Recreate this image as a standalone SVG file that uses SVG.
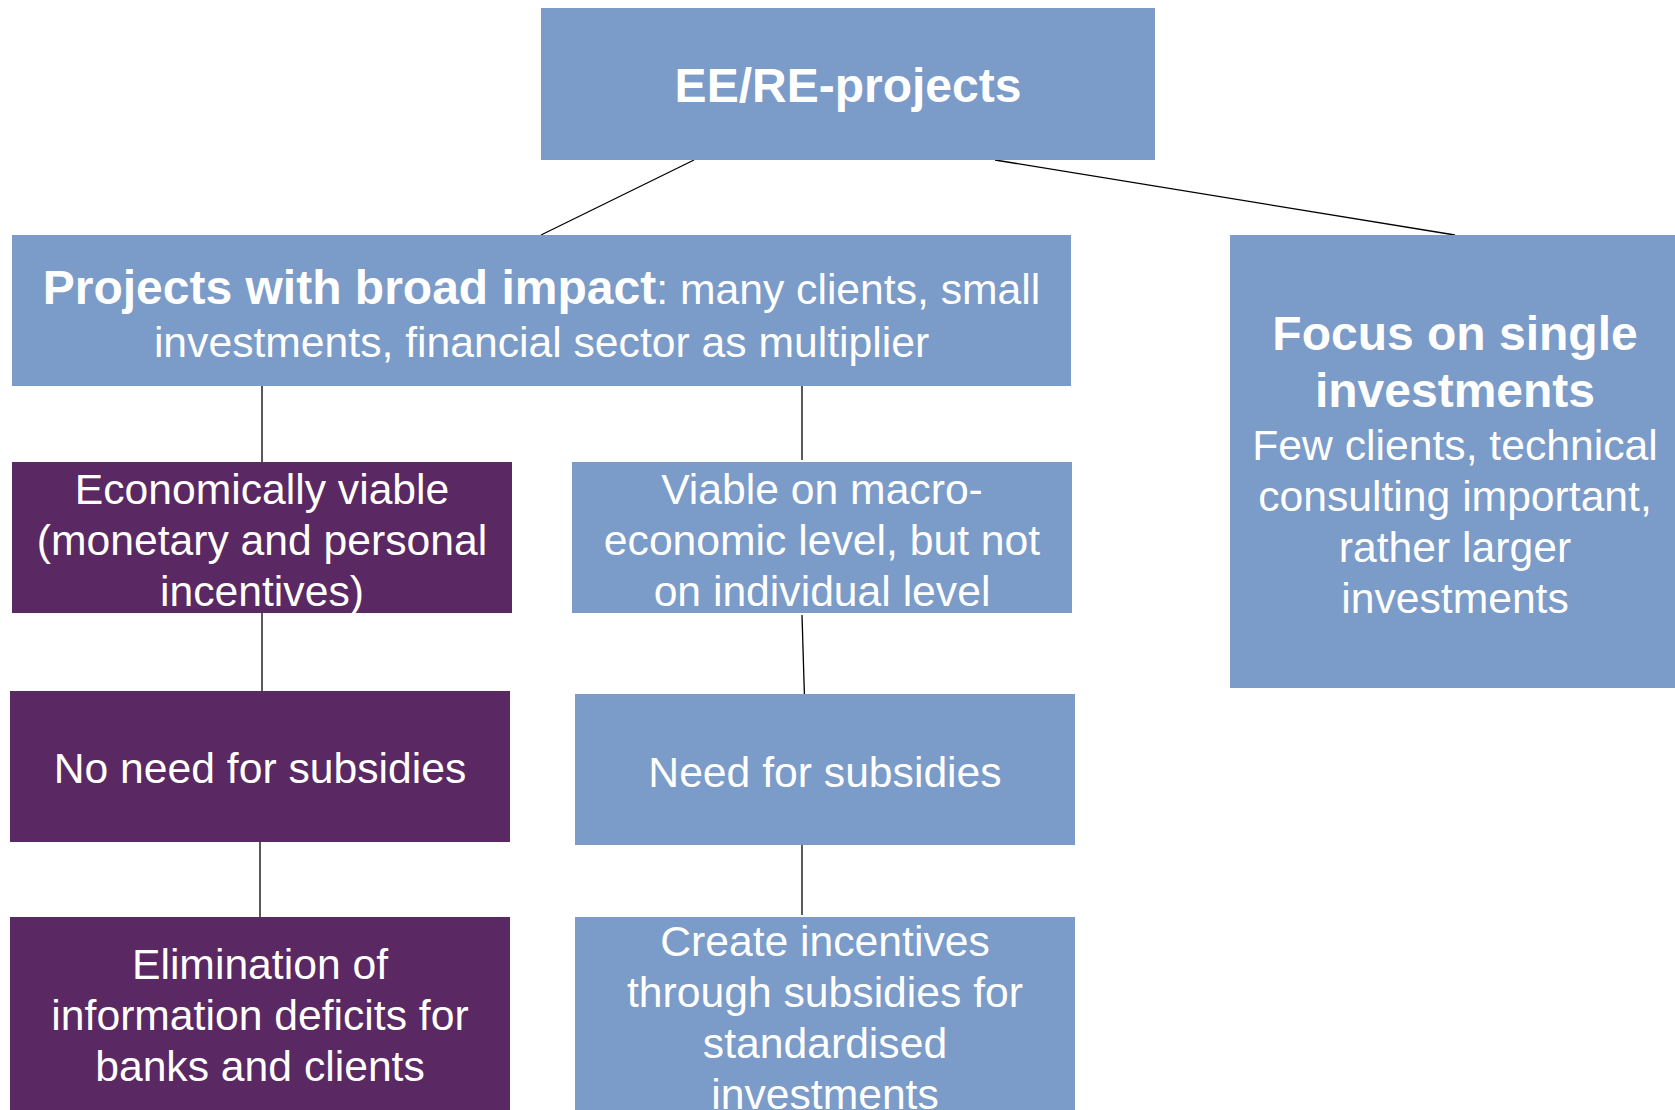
<svg xmlns="http://www.w3.org/2000/svg" width="1675" height="1110" viewBox="0 0 1675 1110">
<style>
.blue{fill:#7B9BC9}
.purple{fill:#5A2862}
text{font-family:"Liberation Sans",Arial,sans-serif;fill:#ffffff;text-anchor:middle}
.r{font-size:42.67px}
.b{font-size:48px;font-weight:bold}
.conn line{stroke:#000000;stroke-width:1.3;fill:none}
</style>
<rect width="1675" height="1110" fill="#ffffff"/>
<g id="connectors" class="conn">
<line x1="694" y1="160" x2="541" y2="235"/>
<line x1="995" y1="160" x2="1455" y2="235"/>
<line x1="262" y1="386" x2="262" y2="462"/>
<line x1="802" y1="386" x2="802" y2="460"/>
<line x1="262" y1="613" x2="262" y2="691"/>
<line x1="802" y1="615" x2="804.5" y2="698"/>
<line x1="260" y1="842" x2="260" y2="917"/>
<line x1="802" y1="840" x2="802" y2="915"/>
</g>
<g id="node-root">
<rect class="blue" x="541" y="8" width="614" height="152"/>
<text class="b" x="848" y="102">EE/RE-projects</text>
</g>
<g id="node-broad">
<rect class="blue" x="12" y="235" width="1059" height="151"/>
<text x="541.5" y="303.5"><tspan class="b">Projects with broad impact</tspan><tspan class="r">: many clients, small</tspan></text>
<text class="r" x="541.5" y="356.5">investments, financial sector as multiplier</text>
</g>
<g id="node-single">
<rect class="blue" x="1230" y="235" width="450" height="453"/>
<text class="b" x="1455" y="349.5">Focus on single</text>
<text class="b" x="1455" y="406.5">investments</text>
<text class="r" x="1455" y="459.5">Few clients, technical</text>
<text class="r" x="1455" y="510.5">consulting important,</text>
<text class="r" x="1455" y="561.5">rather larger</text>
<text class="r" x="1455" y="612.5">investments</text>
</g>
<g id="node-econ">
<rect class="purple" x="12" y="462" width="500" height="151"/>
<text class="r" x="262" y="503.5">Economically viable</text>
<text class="r" x="262" y="554.5">(monetary and personal</text>
<text class="r" x="262" y="605.5">incentives)</text>
</g>
<g id="node-macro">
<rect class="blue" x="572" y="462" width="500" height="151"/>
<text class="r" x="822" y="503.5">Viable on macro-</text>
<text class="r" x="822" y="554.5">economic level, but not</text>
<text class="r" x="822" y="605.5">on individual level</text>
</g>
<g id="node-noneed">
<rect class="purple" x="10" y="691" width="500" height="151"/>
<text class="r" x="260" y="783">No need for subsidies</text>
</g>
<g id="node-need">
<rect class="blue" x="575" y="694" width="500" height="151"/>
<text class="r" x="825" y="786.5">Need for subsidies</text>
</g>
<g id="node-elim">
<rect class="purple" x="10" y="917" width="500" height="200"/>
<text class="r" x="260" y="978.5">Elimination of</text>
<text class="r" x="260" y="1029.5">information deficits for</text>
<text class="r" x="260" y="1080.5">banks and clients</text>
</g>
<g id="node-create">
<rect class="blue" x="575" y="917" width="500" height="200"/>
<text class="r" x="825" y="955.5">Create incentives</text>
<text class="r" x="825" y="1006.5">through subsidies for</text>
<text class="r" x="825" y="1057.5">standardised</text>
<text class="r" x="825" y="1108.5">investments</text>
</g>
</svg>
